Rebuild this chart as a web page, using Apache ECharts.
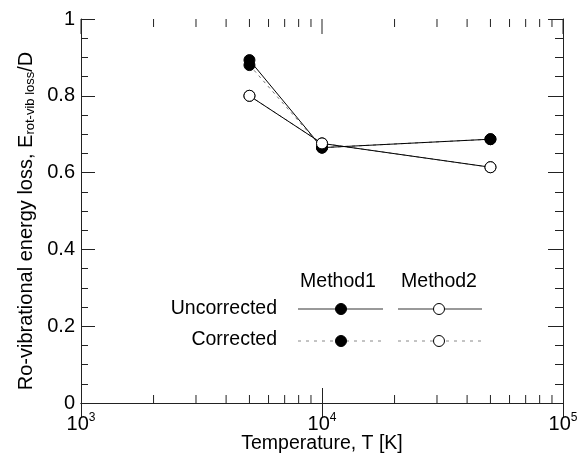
<!DOCTYPE html>
<html>
<head>
<meta charset="utf-8">
<script src="https://cdn.jsdelivr.net/npm/echarts@6/dist/echarts.min.js"></script>
<style>html,body{margin:0;padding:0;background:#fff;}#c{width:580px;height:456px;}</style>
</head>
<body>
<div id="c"></div>
<script>
// ---- data ----
var temperatures = [5000, 10000, 50000];
var method1Uncorrected = [0.893, 0.665, 0.687];
var method1Corrected   = [0.880, 0.665, 0.687];
var method2Uncorrected = [0.800, 0.676, 0.614];
var method2Corrected   = [0.800, 0.676, 0.614];
var xMajorTicks = [1000, 10000, 100000];
var xMinorTicks = [2000, 3000, 4000, 5000, 6000, 7000, 8000, 9000,
                   20000, 30000, 40000, 50000, 60000, 70000, 80000, 90000];
var xMin = 1000, xMax = 100000;
var yMin = 0, yMax = 1, yInterval = 0.2;

function pairs(xs, ys) { return xs.map(function (x, i) { return [x, ys[i]]; }); }

var FONT = 'Liberation Sans, Arial, sans-serif';
var AX = '#222';
var chart = echarts.init(document.getElementById('c'), null, {renderer: 'canvas'});

function xLabel(v) {
  var e = Math.round(Math.log10(v));
  return '{b|10}{s|' + e + '}';
}

var option = {
  animation: false,
  backgroundColor: '#fff',
  grid: {left: 81, right: 17, top: 19, bottom: 53, containLabel: false, outerBoundsMode: 'none'},
  xAxis: [{
    type: 'log', logBase: 10, min: xMin, max: xMax, position: 'bottom',
    axisLine: {show: true, lineStyle: {color: AX, width: 1}},
    axisTick: {show: true, inside: true, length: 15, lineStyle: {color: AX}},
    minorTick: {show: false},
    splitLine: {show: false},
    axisLabel: {
      formatter: xLabel, margin: 9,
      rich: {
        b: {fontFamily: FONT, fontSize: 20, color: '#000'},
        s: {fontFamily: FONT, fontSize: 12, color: '#000', verticalAlign: 'top', padding: [0, 0, 12, 0]}
      }
    },
    name: 'Temperature, T [K]', nameLocation: 'middle', nameGap: 31, nameMoveOverlap: false,
    nameTextStyle: {fontFamily: FONT, fontSize: 19.5, color: '#000'}
  }, {
    type: 'value', min: Math.log10(xMin), max: Math.log10(xMax), interval: 1, position: 'top',
    axisLine: {show: true, lineStyle: {color: AX, width: 1}},
    axisTick: {show: true, inside: true, length: 15, lineStyle: {color: AX, width: 1}},
    axisLabel: {show: true, color: 'rgba(0,0,0,0)', fontSize: 10}, splitLine: {show: false}
  }],
  yAxis: [{
    type: 'value', min: yMin, max: yMax, interval: yInterval, position: 'left',
    axisLine: {show: true, lineStyle: {color: AX, width: 1}},
    axisTick: {show: true, inside: true, length: 14, lineStyle: {color: AX}},
    minorTick: {show: true, splitNumber: 4, length: 7, lineStyle: {color: AX}},
    splitLine: {show: false},
    axisLabel: {
      fontFamily: FONT, fontSize: 20, color: '#000', margin: 6,
      formatter: function (v) { return (v === 0 || v === 1) ? String(v) : v.toFixed(1); }
    },
    name: '{m|Ro-vibrational energy loss, E}{sub|rot-vib loss}{m|/D}',
    nameLocation: 'middle', nameGap: 44, nameMoveOverlap: false,
    nameTextStyle: {
      padding: [0, 20, 0, 0],
      rich: {
        m: {fontFamily: FONT, fontSize: 20, color: '#000'},
        sub: {fontFamily: FONT, fontSize: 13, color: '#000', verticalAlign: 'bottom', padding: [9, 0, 0, 0]}
      }
    }
  }, {
    type: 'value', min: yMin, max: yMax, interval: yInterval, position: 'right',
    axisLine: {show: true, lineStyle: {color: AX, width: 1}},
    axisTick: {show: true, inside: true, length: 15, lineStyle: {color: AX}},
    minorTick: {show: true, splitNumber: 4, length: 8, lineStyle: {color: AX}},
    splitLine: {show: false}, axisLabel: {show: true, color: 'rgba(0,0,0,0)', fontSize: 10}
  }],
  series: [
    {
      type: 'custom', xAxisIndex: 0, yAxisIndex: 0, silent: true, clip: false, z: 1,
      data: xMinorTicks.map(function (x) { return [x, yMin]; }),
      renderItem: function (params, api) {
        var v = api.value(0);
        var b = api.coord([v, yMin]);
        var t = api.coord([v, yMax]);
        var st = {stroke: AX, lineWidth: 1};
        return {type: 'group', children: [
          {type: 'line', shape: {x1: b[0], y1: b[1], x2: b[0], y2: b[1] - 8}, style: st},
          {type: 'line', shape: {x1: t[0], y1: t[1], x2: t[0], y2: t[1] + 8}, style: st}
        ]};
      }
    },
    {
      type: 'custom', xAxisIndex: 0, yAxisIndex: 0, silent: true, clip: false, z: 20,
      data: xMajorTicks.map(function (x) { return [x, yMax]; }),
      renderItem: function (params, api) {
        var t = api.coord([api.value(0), yMax]);
        return {type: 'rect', z2: 50,
                shape: {x: Math.round(t[0]) - 0.5, y: t[1], width: 1, height: 15},
                style: {fill: AX}};
      }
    },
    {
      name: 'Method1 Corrected', type: 'line', data: pairs(temperatures, method1Corrected),
      symbol: 'circle', symbolSize: 11, z: 3,
      lineStyle: {color: '#777', width: 1, type: [3, 4]},
      itemStyle: {color: '#000', borderColor: '#000', borderWidth: 1}
    },
    {
      name: 'Method2 Corrected', type: 'line', data: pairs(temperatures, method2Corrected),
      symbol: 'circle', symbolSize: 11, z: 3,
      lineStyle: {color: '#777', width: 1, type: [3, 4]},
      itemStyle: {color: '#fff', borderColor: '#000', borderWidth: 1}
    },
    {
      name: 'Method1 Uncorrected', type: 'line', data: pairs(temperatures, method1Uncorrected),
      symbol: 'circle', symbolSize: 11, z: 4,
      lineStyle: {color: '#000', width: 1},
      itemStyle: {color: '#000', borderColor: '#000', borderWidth: 1}
    },
    {
      name: 'Method2 Uncorrected', type: 'line', data: pairs(temperatures, method2Uncorrected),
      symbol: 'circle', symbolSize: 11, z: 4,
      lineStyle: {color: '#000', width: 1},
      itemStyle: {color: '#fff', borderColor: '#000', borderWidth: 1}
    }
  ],
  graphic: [
    {type: 'text', x: 338, y: 282, style: {text: 'Method1', font: '19.5px ' + FONT, fill: '#000', align: 'center', verticalAlign: 'middle'}},
    {type: 'text', x: 439, y: 282, style: {text: 'Method2', font: '19.5px ' + FONT, fill: '#000', align: 'center', verticalAlign: 'middle'}},
    {type: 'text', x: 277, y: 309, style: {text: 'Uncorrected', font: '19.5px ' + FONT, fill: '#000', align: 'right', verticalAlign: 'middle'}},
    {type: 'text', x: 277, y: 340, style: {text: 'Corrected', font: '19.5px ' + FONT, fill: '#000', align: 'right', verticalAlign: 'middle'}},
    {type: 'line', shape: {x1: 298, y1: 309, x2: 383, y2: 309}, style: {stroke: '#777', lineWidth: 1.5}},
    {type: 'circle', shape: {cx: 341, cy: 309, r: 5.5}, style: {fill: '#000', stroke: '#000'}},
    {type: 'line', shape: {x1: 398, y1: 309, x2: 482, y2: 309}, style: {stroke: '#777', lineWidth: 1.5}},
    {type: 'circle', shape: {cx: 439, cy: 309, r: 5.5}, style: {fill: '#fff', stroke: '#000'}},
    {type: 'line', shape: {x1: 298, y1: 341, x2: 383, y2: 341}, style: {stroke: '#888', lineWidth: 1, lineDash: [3, 5]}},
    {type: 'circle', shape: {cx: 341, cy: 341, r: 5.5}, style: {fill: '#000', stroke: '#000'}, z: 10},
    {type: 'line', shape: {x1: 398, y1: 341, x2: 482, y2: 341}, style: {stroke: '#888', lineWidth: 1, lineDash: [3, 5]}},
    {type: 'circle', shape: {cx: 439, cy: 341, r: 5.5}, style: {fill: '#fff', stroke: '#000'}, z: 10}
  ]
};
chart.setOption(option);
</script>
</body>
</html>
